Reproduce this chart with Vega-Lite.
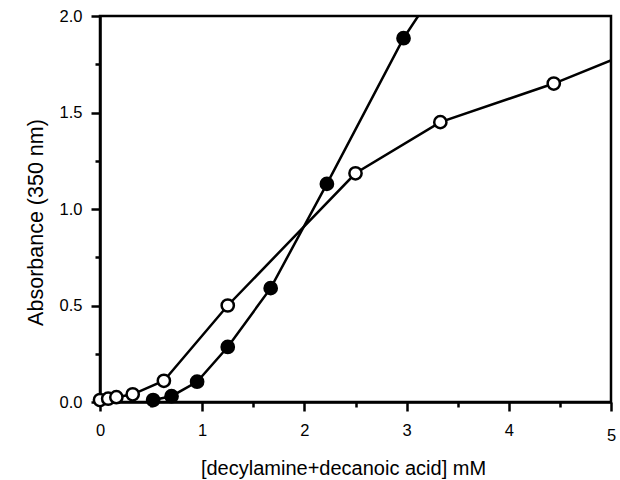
{
  "$schema": "https://vega.github.io/schema/vega-lite/v6.json",
  "width": 511,
  "height": 386,
  "autosize": {"type": "none"},
  "padding": {"left": 100, "top": 16, "right": 9, "bottom": 78},
  "background": "white",
  "config": {
    "font": "Liberation Sans",
    "view": {"stroke": "black", "strokeWidth": 2.5},
    "axis": {
      "domainColor": "black",
      "domainWidth": 2.5,
      "tickColor": "black",
      "tickWidth": 2.5,
      "grid": false,
      "labelColor": "black",
      "titleColor": "black",
      "labelFont": "Liberation Sans",
      "titleFont": "Liberation Sans",
      "titleFontWeight": "normal",
      "labelFontSize": 16.5,
      "labelFlush": false,
      "labelOverlap": false,
      "labelBound": false
    }
  },
  "data": {
    "values": [
      {"series": "open", "conc": 0.0, "abs": 0.01},
      {"series": "open", "conc": 0.08, "abs": 0.017},
      {"series": "open", "conc": 0.16, "abs": 0.025},
      {"series": "open", "conc": 0.32, "abs": 0.04},
      {"series": "open", "conc": 0.625, "abs": 0.11},
      {"series": "open", "conc": 1.25, "abs": 0.5},
      {"series": "open", "conc": 2.5, "abs": 1.185},
      {"series": "open", "conc": 3.33, "abs": 1.45},
      {"series": "open", "conc": 4.44, "abs": 1.65},
      {"series": "open", "conc": 5.56, "abs": 1.89},
      {"series": "filled", "conc": 0.52, "abs": 0.01},
      {"series": "filled", "conc": 0.7, "abs": 0.03},
      {"series": "filled", "conc": 0.95, "abs": 0.105},
      {"series": "filled", "conc": 1.25, "abs": 0.285},
      {"series": "filled", "conc": 1.67, "abs": 0.59},
      {"series": "filled", "conc": 2.22, "abs": 1.13},
      {"series": "filled", "conc": 2.97, "abs": 1.885},
      {"series": "filled", "conc": 3.7, "abs": 2.47}
    ]
  },
  "encoding": {
    "x": {
      "field": "conc",
      "type": "quantitative",
      "scale": {"domain": [0, 5], "nice": false, "zero": false},
      "axis": {
        "title": "[decylamine+decanoic acid] mM",
        "values": [0, 0.5, 1, 1.5, 2, 2.5, 3, 3.5, 4, 4.5, 5],
        "labelExpr": "datum.value % 1 == 0 ? format(datum.value, 'd') : ''",
        "tickSize": {"condition": {"test": "datum.value % 1 == 0", "value": 9}, "value": 5},
        "labelPadding": {"condition": {"test": "datum.value == 5", "value": 16}, "value": 11},
        "titleFontSize": 20,
        "titleBaseline": "alphabetic",
        "titleY": 72,
        "titleX": 243
      }
    },
    "y": {
      "field": "abs",
      "type": "quantitative",
      "scale": {"domain": [0, 2], "nice": false},
      "axis": {
        "title": "Absorbance (350 nm)",
        "values": [0, 0.25, 0.5, 0.75, 1, 1.25, 1.5, 1.75, 2],
        "labelExpr": "datum.value % 0.5 == 0 ? format(datum.value, '.1f') : ''",
        "tickSize": {"condition": {"test": "datum.value % 0.5 == 0", "value": 9}, "value": 5},
        "labelPadding": 9,
        "titleFontSize": 21.5,
        "titleX": -64,
        "titleY": 206,
        "titleAlign": "center",
        "titleBaseline": "middle",
        "titleAngle": -90
      }
    }
  },
  "layer": [
    {
      "mark": {"type": "line", "color": "black", "strokeWidth": 2.5, "clip": true},
      "encoding": {"detail": {"field": "series"}}
    },
    {
      "transform": [{"filter": "datum.conc <= 5 && datum.abs <= 2"}],
      "mark": {"type": "circle", "size": 150, "stroke": "black", "strokeWidth": 2.5, "opacity": 1},
      "encoding": {
        "fill": {
          "field": "series",
          "type": "nominal",
          "scale": {"domain": ["open", "filled"], "range": ["white", "black"]},
          "legend": null
        }
      }
    }
  ]
}
